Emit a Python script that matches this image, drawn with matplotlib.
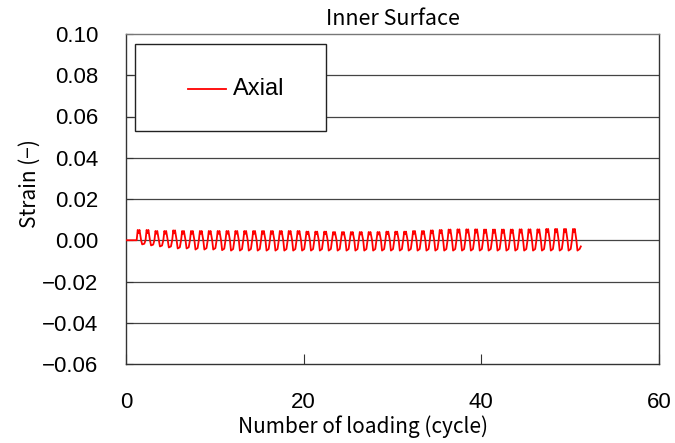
import matplotlib
matplotlib.use("Agg")
import matplotlib.pyplot as plt
from matplotlib.patches import Rectangle
from matplotlib.lines import Line2D

# ---- data ----
start_cycle = 1.2          # first loading cycle begins
cycle_length = 1.0
peaks = [0.0050, 0.0050, 0.0045, 0.0045, 0.0048, 0.0045, 0.0045, 0.0045, 0.0045, 0.0045,
         0.0045, 0.0045, 0.0045, 0.0045, 0.0045, 0.0045, 0.0045, 0.0045, 0.0045, 0.0042,
         0.0042, 0.0042, 0.0040, 0.0040, 0.0040, 0.0040, 0.0040, 0.0040, 0.0042, 0.0042,
         0.0042, 0.0045, 0.0045, 0.0048, 0.0050, 0.0052, 0.0053, 0.0053, 0.0053, 0.0052,
         0.0052, 0.0052, 0.0052, 0.0053, 0.0053, 0.0053, 0.0055, 0.0055, 0.0055, 0.0055]
troughs = [-0.0020, -0.0025, -0.0030, -0.0035, -0.0040, -0.0040, -0.0045, -0.0045, -0.0045, -0.0048,
           -0.0050, -0.0050, -0.0050, -0.0050, -0.0050, -0.0050, -0.0050, -0.0050, -0.0050, -0.0050,
           -0.0050, -0.0050, -0.0050, -0.0050, -0.0050, -0.0050, -0.0050, -0.0050, -0.0050, -0.0050,
           -0.0050, -0.0050, -0.0050, -0.0050, -0.0050, -0.0050, -0.0050, -0.0050, -0.0050, -0.0050,
           -0.0050, -0.0050, -0.0050, -0.0050, -0.0050, -0.0050, -0.0050, -0.0050, -0.0050, -0.0050]
end_value = -0.0030
# shape of one loading cycle: (fraction of cycle, kind of point)
shape_pos = [0.00, 0.12, 0.22, 0.32, 0.50, 0.62, 0.86]
shape_kind = ["zero", "peak", "notch", "peak", "zero", "trough", "trough2"]

xticks = [0, 20, 40, 60]
yticks = [-0.06, -0.04, -0.02, 0.00, 0.02, 0.04, 0.06, 0.08, 0.10]

# ---- build the line ----
xs = [0.0]
ys = [0.0]
for i, (p, t) in enumerate(zip(peaks, troughs)):
    c0 = start_cycle + i * cycle_length
    for f, k in zip(shape_pos, shape_kind):
        xs.append(c0 + f * cycle_length)
        if k == "zero":
            ys.append(0.0)
        elif k == "peak":
            ys.append(p)
        elif k == "notch":
            ys.append(p * 0.7)
        elif k == "trough":
            ys.append(t)
        else:
            ys.append(t * 0.85)
xs.append(start_cycle + len(peaks) * cycle_length)
ys.append(end_value)

fig = plt.figure(figsize=(6.75, 4.43), dpi=100)
ax = fig.add_axes([126 / 675, 1 - 364 / 443, (659 - 126) / 675, (364 - 34) / 443])

ax.set_xlim(0, 60)
ax.set_ylim(-0.06, 0.10)
ax.set_xticks(xticks)
ax.set_yticks(yticks)
ax.set_yticklabels([f"{v:.2f}".replace("-", "\u2212") for v in yticks])

for v in yticks[1:-1]:
    ax.axhline(v, color="#444444", lw=0.9, zorder=1)

ax.plot(xs, ys, color="#ff0000", lw=1.3, zorder=3, label="Axial")

for s in ["left", "bottom", "right"]:
    ax.spines[s].set_color("#333333")
    ax.spines[s].set_linewidth(1.0)
ax.spines["top"].set_color("#777777")
ax.spines["top"].set_linewidth(1.0)

ax.tick_params(axis="y", direction="in", length=5, pad=20, labelsize=16, color="#333333")
ax.tick_params(axis="x", direction="in", length=7, pad=20, labelsize=16, color="#333333")
for lab in ax.get_xticklabels() + ax.get_yticklabels():
    lab.set_family(["Liberation Sans", "DejaVu Sans"])

lab_font = ["Noto Sans CJK JP", "DejaVu Sans"]
fig.text(363 / 675, 1 - 427 / 443, "Number of loading (cycle)", fontsize=15,
         family=lab_font, ha="center", va="center")
fig.text(30 / 675, 1 - 184 / 443, "Strain (\u2212)", fontsize=15,
         family=lab_font, ha="center", va="center", rotation=90)
fig.text(393 / 675, 1 - 19 / 443, "Inner Surface", fontsize=15.5,
         family=lab_font, ha="center", va="center")

# legend box
ax.add_patch(Rectangle((0.0169, 0.706), 0.358, 0.264, transform=ax.transAxes,
                       facecolor="white", edgecolor="#222222", lw=1.0, zorder=4))
ax.add_line(Line2D([(188 - 126) / 533, (226 - 126) / 533], [0.833, 0.833],
                   transform=ax.transAxes, color="#ff0000", lw=1.3, zorder=5))
ax.text((233 - 126) / 533, 0.833, "Axial", transform=ax.transAxes, fontsize=17,
        family=["Liberation Sans", "DejaVu Sans"], ha="left", va="center", zorder=5)

fig.savefig("out.png", dpi=100)
